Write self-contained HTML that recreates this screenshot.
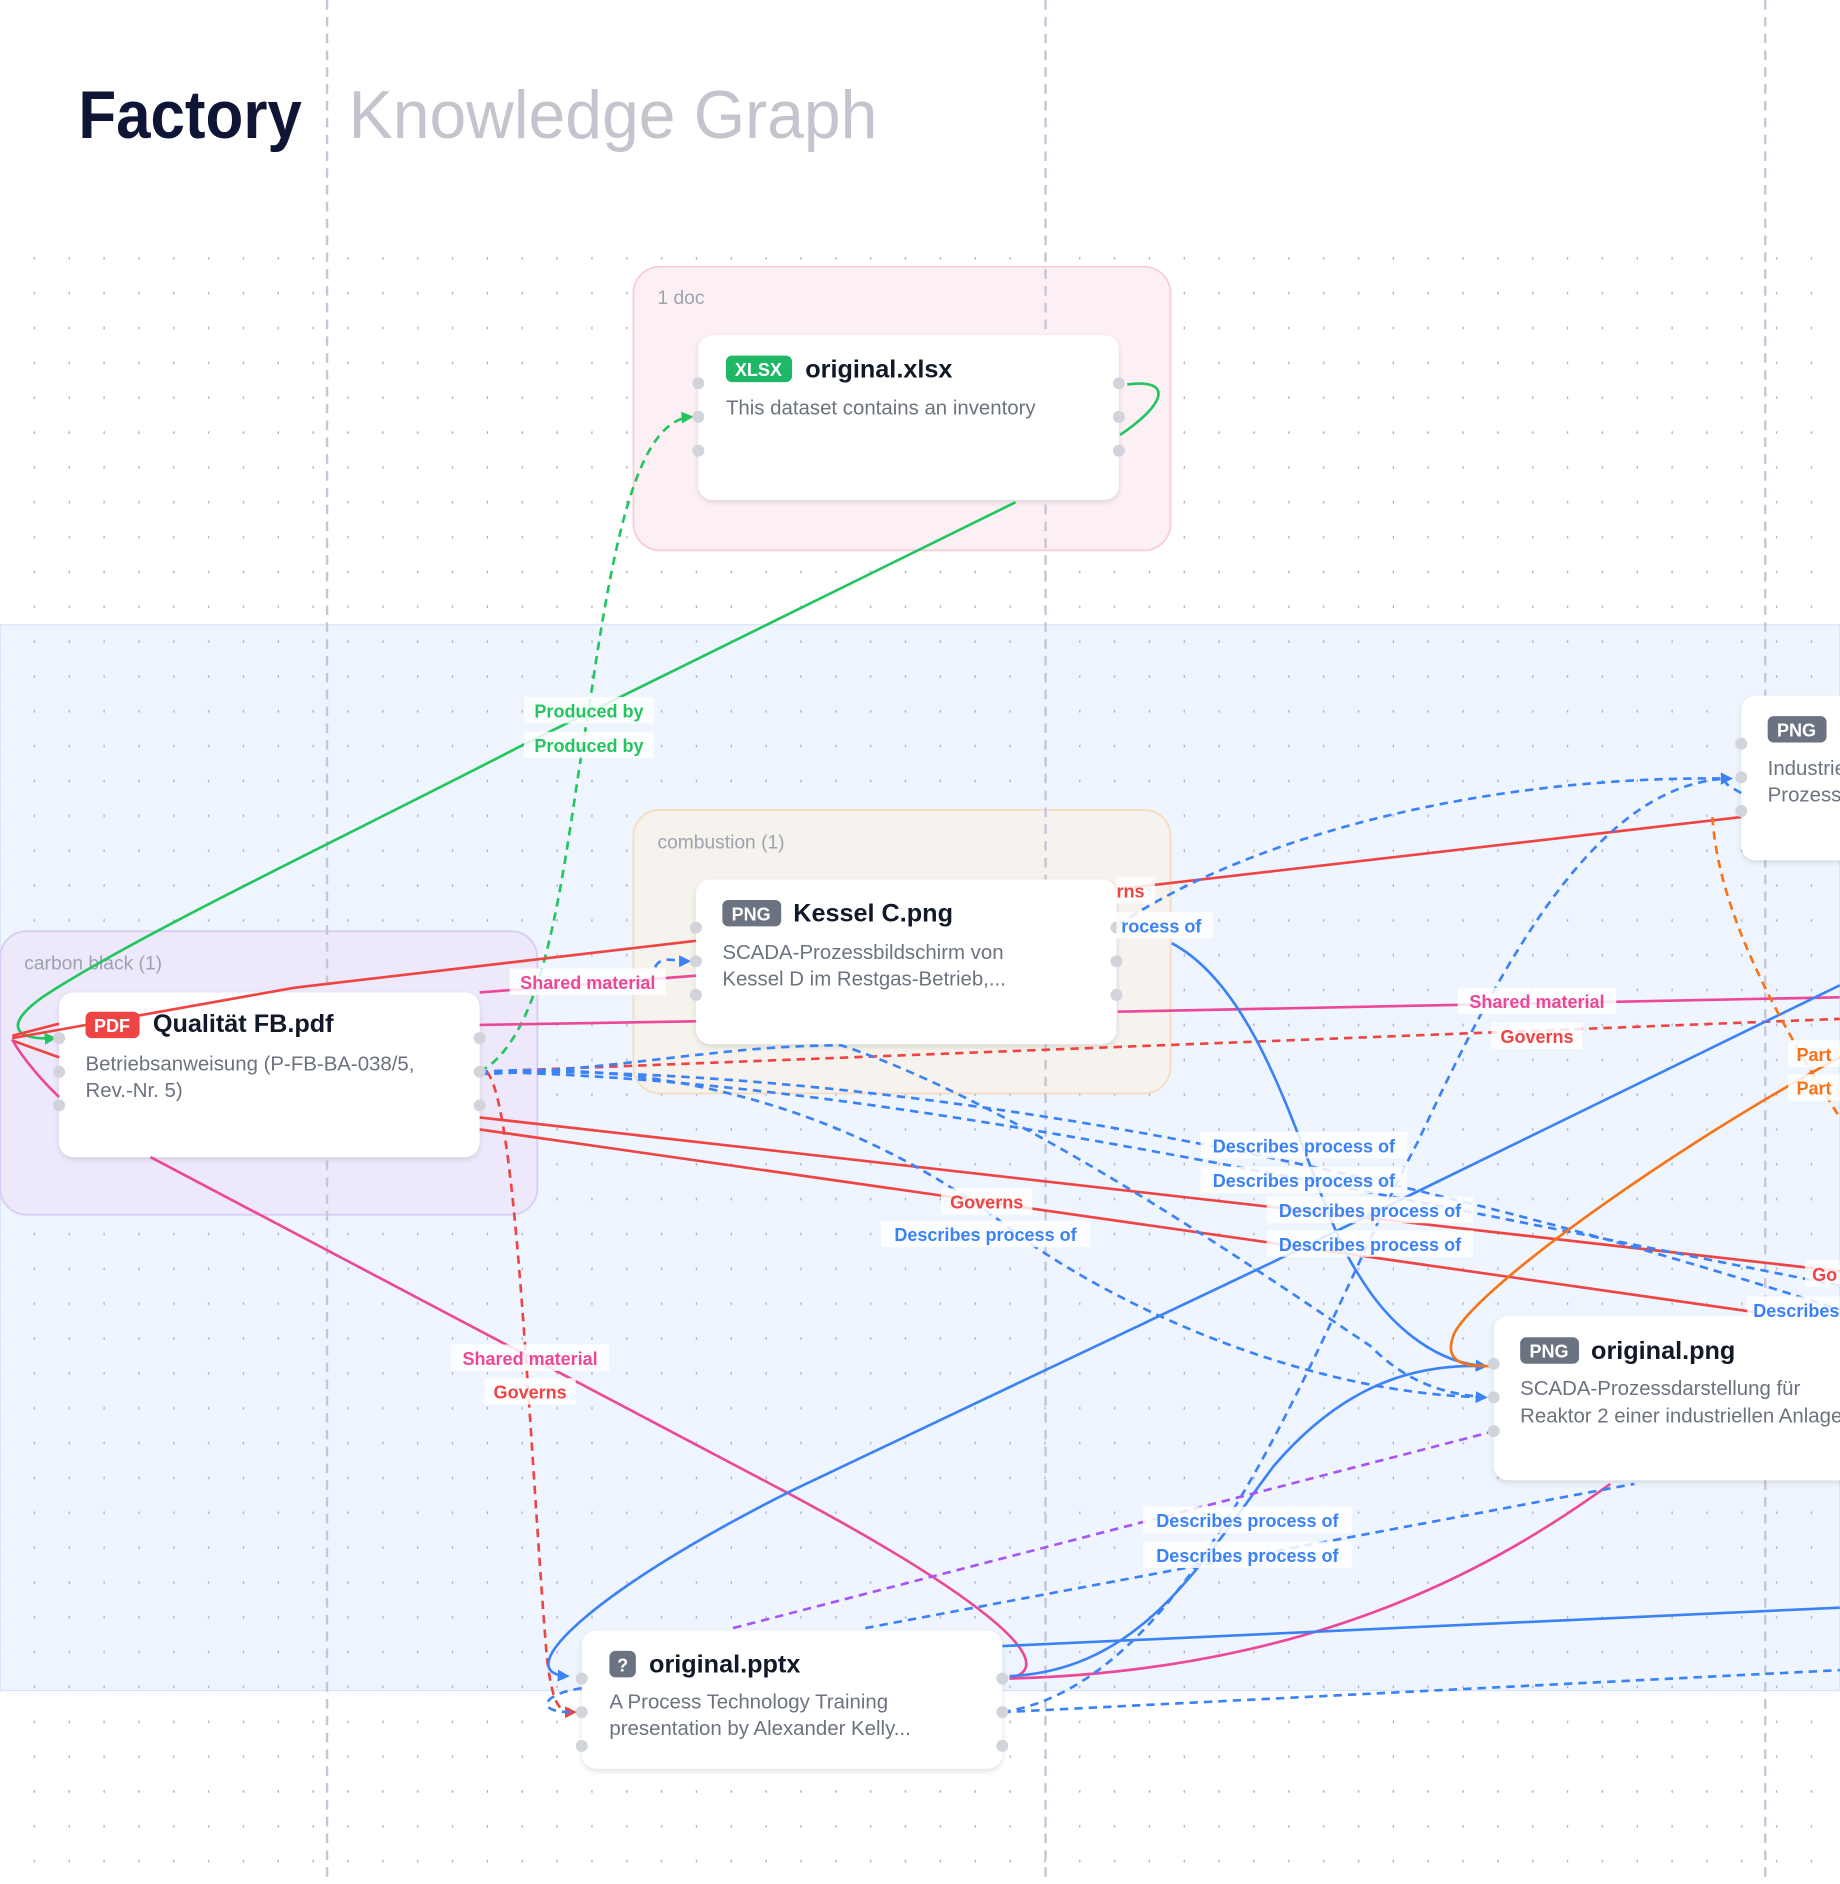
<!DOCTYPE html>
<html><head><meta charset="utf-8"><style>
html,body{margin:0;padding:0;background:#fff;}
svg{display:block;}
text{font-family:"Liberation Sans",sans-serif;}
.lbl{font-size:15px;font-weight:bold;text-anchor:middle;}
.nt{font-size:21px;font-weight:bold;fill:#111827;}
.nd{font-size:17px;fill:#6b7280;}
.bd{font-size:15px;font-weight:bold;fill:#fff;text-anchor:middle;}
</style></head><body>
<svg width="1840" height="1884" viewBox="0 0 1531 1568" xmlns="http://www.w3.org/2000/svg">
<defs>
<pattern id="dots" x="0" y="0" width="29" height="29" patternUnits="userSpaceOnUse"><circle cx="29" cy="12" r="1.2" fill="#aab0bf"/></pattern>
<filter id="sh" x="-10%" y="-10%" width="120%" height="130%"><feDropShadow dx="0" dy="2" stdDeviation="2.5" flood-color="#000" flood-opacity="0.12"/></filter>
<marker id="ab" markerWidth="10" markerHeight="10" refX="8" refY="5" orient="auto" markerUnits="userSpaceOnUse"><path d="M0,0 L10,5 L0,10 z" fill="#3b82f6"/></marker>
<marker id="ag" markerWidth="10" markerHeight="10" refX="8" refY="5" orient="auto" markerUnits="userSpaceOnUse"><path d="M0,0 L10,5 L0,10 z" fill="#22c55e"/></marker>
<marker id="ar" markerWidth="10" markerHeight="10" refX="8" refY="5" orient="auto" markerUnits="userSpaceOnUse"><path d="M0,0 L10,5 L0,10 z" fill="#ef4444"/></marker>
</defs>
<rect width="1531" height="1568" fill="#fff"/>
<rect x="0" y="520" width="1531" height="887" fill="#eff5fe" stroke="#d6e3fa"/>
<rect x="0" y="200" width="1531" height="1368" fill="url(#dots)"/>
<text x="65" y="115" font-size="56" font-weight="bold" fill="#0f1535" textLength="186" lengthAdjust="spacingAndGlyphs">Factory</text>
<text x="290" y="115" font-size="56" fill="#c3c4ce" textLength="440" lengthAdjust="spacingAndGlyphs">Knowledge Graph</text>
<rect x="527" y="222" width="447" height="236" rx="22" fill="#fdf0f4" stroke="#f8cdd9" stroke-width="1.5"/>
<text x="547" y="253" font-size="16" fill="#9ca3af">1 doc</text>
<rect x="527" y="674" width="447" height="236" rx="22" fill="#f6f2ed" stroke="#f5dcc0" stroke-width="1.5"/>
<text x="547" y="706" font-size="16" fill="#9ca3af">combustion (1)</text>
<rect x="0" y="775" width="447" height="236" rx="22" fill="#ede9fb" stroke="#d8cdf6" stroke-width="1.5"/>
<text x="20" y="807" font-size="16" fill="#9ca3af">carbon black (1)</text>
<g stroke="#c6c6d6" stroke-width="2" stroke-dasharray="8,6">
<line x1="272" y1="0" x2="272" y2="1568"/><line x1="870" y1="0" x2="870" y2="1568"/><line x1="1469" y1="0" x2="1469" y2="1568"/>
</g>
<g filter="url(#sh)" fill="#fff">
<rect x="581" y="279" width="350" height="137" rx="12"/>
<rect x="579" y="732" width="350" height="137" rx="12"/>
<rect x="49" y="826" width="350" height="137" rx="12"/>
<rect x="1243" y="1095" width="320" height="137" rx="12"/>
<rect x="484" y="1357" width="350" height="115" rx="12"/>
<rect x="1449" y="579" width="120" height="137" rx="12"/>
</g>
<g fill="none" stroke-width="2.2">
<path d="M845,418 L435,620 C300,690 110,780 35,830 C0,855 15,866 45,864" stroke="#22c55e" marker-end="url(#ag)"/>
<path d="M932,362 C972,335 975,315 938,320" stroke="#22c55e"/>
<path d="M399,892 C460,860 470,700 490,590 C510,450 530,350 575,347" stroke="#22c55e" stroke-dasharray="7,5" marker-end="url(#ag)"/>
<path d="M10,862 L49,852 M10,866 L49,880 M10,864 L245,822 L579,783" stroke="#ef4444"/>
<path d="M930,740 L1449,680" stroke="#ef4444"/>
<path d="M399,930 L1531,1058" stroke="#ef4444"/>
<path d="M399,940 L1460,1092" stroke="#ef4444"/>
<path d="M399,892 L1531,848" stroke="#ef4444" stroke-dasharray="7,5"/>
<path d="M405,892 C430,920 440,1200 455,1380 C460,1420 465,1425 478,1425" stroke="#ef4444" stroke-dasharray="7,5" marker-end="url(#ar)"/>
<path d="M399,826 L579,812" stroke="#ec4899"/>
<path d="M399,853 L579,850" stroke="#ec4899"/>
<path d="M930,842 L1531,830" stroke="#ec4899"/>
<path d="M125,963 L660,1245 C800,1320 890,1385 840,1397" stroke="#ec4899"/>
<path d="M840,1397 C1100,1390 1250,1300 1340,1235" stroke="#ec4899"/>
<path d="M49,913 C30,895 15,875 10,865" stroke="#ec4899"/>
<path d="M975,785 C1060,830 1090,1000 1130,1060 C1160,1110 1200,1135 1236,1137" stroke="#3b82f6" marker-end="url(#ab)"/>
<path d="M1531,820 L1060,1050 L660,1240 C500,1320 420,1392 472,1395" stroke="#3b82f6" marker-end="url(#ab)"/>
<path d="M834,1370 L1531,1338" stroke="#3b82f6"/>
<path d="M840,1395 C950,1390 1000,1300 1060,1220 C1120,1150 1180,1135 1236,1137" stroke="#3b82f6" marker-end="url(#ab)"/>
<g stroke="#3b82f6" stroke-dasharray="7,5">
<path d="M399,892 C600,880 750,950 850,1030 C950,1100 1100,1160 1236,1163" marker-end="url(#ab)"/>
<path d="M399,892 C700,888 1100,950 1531,1090"/>
<path d="M399,892 C700,898 1000,965 1531,1070"/>
<path d="M399,894 C520,890 600,870 700,870 C850,920 1050,1060 1140,1120 C1170,1150 1200,1160 1236,1163"/>
<path d="M545,805 C550,795 560,800 573,800" marker-end="url(#ab)"/>
<path d="M930,770 C1050,690 1250,645 1440,648" marker-end="url(#ab)"/>
<path d="M834,1425 C1000,1400 1100,1100 1180,950 C1250,800 1330,650 1440,648" marker-end="url(#ab)"/>
<path d="M834,1425 L1531,1390"/>
<path d="M720,1355 L1360,1235"/>
<path d="M484,1405 C450,1410 445,1425 475,1425"/>
<path d="M1449,660 C1440,655 1430,650 1440,648"/>
</g>
<path d="M610,1355 L1240,1192" stroke="#a855f7" stroke-dasharray="7,5"/>
<path d="M1425,680 C1430,760 1480,850 1531,930" stroke="#f97316" stroke-dasharray="7,5"/>
<path d="M1531,880 C1400,950 1230,1070 1210,1110 C1200,1135 1220,1137 1240,1137" stroke="#f97316"/>
</g>
<g fill="#d1d5db">
<circle cx="581" cy="319" r="5"/><circle cx="581" cy="347" r="5"/><circle cx="581" cy="375" r="5"/>
<circle cx="931" cy="319" r="5"/><circle cx="931" cy="347" r="5"/><circle cx="931" cy="375" r="5"/>
<circle cx="579" cy="772" r="5"/><circle cx="579" cy="800" r="5"/><circle cx="579" cy="828" r="5"/>
<circle cx="929" cy="772" r="5"/><circle cx="929" cy="800" r="5"/><circle cx="929" cy="828" r="5"/>
<circle cx="49" cy="864" r="5"/><circle cx="49" cy="892" r="5"/><circle cx="49" cy="920" r="5"/>
<circle cx="399" cy="864" r="5"/><circle cx="399" cy="892" r="5"/><circle cx="399" cy="920" r="5"/>
<circle cx="1243" cy="1135" r="5"/><circle cx="1243" cy="1163" r="5"/><circle cx="1243" cy="1191" r="5"/>
<circle cx="484" cy="1397" r="5"/><circle cx="484" cy="1425" r="5"/><circle cx="484" cy="1453" r="5"/>
<circle cx="834" cy="1397" r="5"/><circle cx="834" cy="1425" r="5"/><circle cx="834" cy="1453" r="5"/>
<circle cx="1449" cy="619" r="5"/><circle cx="1449" cy="647" r="5"/><circle cx="1449" cy="675" r="5"/>
</g>
<rect x="604" y="296" width="55" height="22" rx="5" fill="#1fb866"/><text x="631" y="313" class="bd">XLSX</text>
<text x="670" y="314" class="nt">original.xlsx</text>
<text x="604" y="345" class="nd">This dataset contains an inventory</text>
<rect x="601" y="749" width="49" height="22" rx="5" fill="#6b7280"/><text x="625" y="766" class="bd">PNG</text>
<text x="660" y="767" class="nt">Kessel C.png</text>
<text x="601" y="798" class="nd">SCADA-Prozessbildschirm von</text>
<text x="601" y="820" class="nd">Kessel D im Restgas-Betrieb,...</text>
<rect x="71" y="842" width="45" height="22" rx="5" fill="#ef4444"/><text x="93" y="859" class="bd">PDF</text>
<text x="127" y="859" class="nt">Qualität FB.pdf</text>
<text x="71" y="891" class="nd">Betriebsanweisung (P-FB-BA-038/5,</text>
<text x="71" y="913" class="nd">Rev.-Nr. 5)</text>
<rect x="1265" y="1113" width="49" height="22" rx="5" fill="#6b7280"/><text x="1289" y="1130" class="bd">PNG</text>
<text x="1324" y="1131" class="nt">original.png</text>
<text x="1265" y="1161" class="nd">SCADA-Prozessdarstellung für</text>
<text x="1265" y="1184" class="nd">Reaktor 2 einer industriellen Anlage</text>
<rect x="507" y="1374" width="22" height="22" rx="5" fill="#6b7280"/><text x="518" y="1391" class="bd">?</text>
<text x="540" y="1392" class="nt">original.pptx</text>
<text x="507" y="1422" class="nd">A Process Technology Training</text>
<text x="507" y="1444" class="nd">presentation by Alexander Kelly...</text>
<rect x="1471" y="596" width="49" height="22" rx="5" fill="#6b7280"/><text x="1495" y="613" class="bd">PNG</text>
<text x="1471" y="645" class="nd">Industrie</text>
<text x="1471" y="667" class="nd">Prozess</text>
<g>
<g fill="#fff" opacity="0.85">
<rect x="436" y="580" width="108" height="22"/><rect x="436" y="609" width="108" height="22"/>
<rect x="424" y="806" width="130" height="22"/>
<rect x="1213" y="822" width="132" height="22"/><rect x="1241" y="851" width="76" height="22"/>
<rect x="783" y="989" width="76" height="22"/>
<rect x="733" y="1016" width="174" height="22"/>
<rect x="999" y="942" width="172" height="22"/><rect x="999" y="971" width="172" height="22"/>
<rect x="1054" y="996" width="172" height="22"/><rect x="1054" y="1024" width="172" height="22"/>
<rect x="375" y="1119" width="132" height="22"/><rect x="403" y="1147" width="76" height="22"/>
<rect x="951" y="1254" width="174" height="22"/><rect x="951" y="1283" width="174" height="22"/>
<rect x="929" y="759" width="80" height="22"/><rect x="929" y="730" width="32" height="22"/>
<rect x="1488" y="866" width="43" height="22"/><rect x="1488" y="894" width="43" height="22"/>
<rect x="1502" y="1049" width="29" height="22"/><rect x="1454" y="1079" width="77" height="22"/>
</g>
<text x="490" y="597" class="lbl" fill="#22c55e">Produced by</text>
<text x="490" y="626" class="lbl" fill="#22c55e">Produced by</text>
<text x="489" y="823" class="lbl" fill="#ec4899">Shared material</text>
<text x="1279" y="839" class="lbl" fill="#ec4899">Shared material</text>
<text x="1279" y="868" class="lbl" fill="#ef4444">Governs</text>
<text x="821" y="1006" class="lbl" fill="#ef4444">Governs</text>
<text x="820" y="1033" class="lbl" fill="#3b82f6">Describes process of</text>
<text x="1085" y="959" class="lbl" fill="#3b82f6">Describes process of</text>
<text x="1085" y="988" class="lbl" fill="#3b82f6">Describes process of</text>
<text x="1140" y="1013" class="lbl" fill="#3b82f6">Describes process of</text>
<text x="1140" y="1041" class="lbl" fill="#3b82f6">Describes process of</text>
<text x="441" y="1136" class="lbl" fill="#ec4899">Shared material</text>
<text x="441" y="1164" class="lbl" fill="#ef4444">Governs</text>
<text x="1038" y="1271" class="lbl" fill="#3b82f6">Describes process of</text>
<text x="1038" y="1300" class="lbl" fill="#3b82f6">Describes process of</text>
<text x="933" y="776" font-size="15" font-weight="bold" fill="#3b82f6">rocess of</text>
<text x="929" y="747" font-size="15" font-weight="bold" fill="#ef4444">rns</text>
<text x="1495" y="883" font-size="15" font-weight="bold" fill="#f97316">Part</text>
<text x="1495" y="911" font-size="15" font-weight="bold" fill="#f97316">Part</text>
<text x="1508" y="1066" font-size="15" font-weight="bold" fill="#ef4444">Go</text>
<text x="1459" y="1096" font-size="15" font-weight="bold" fill="#3b82f6">Describes</text>
</g>
</svg>
</body></html>
